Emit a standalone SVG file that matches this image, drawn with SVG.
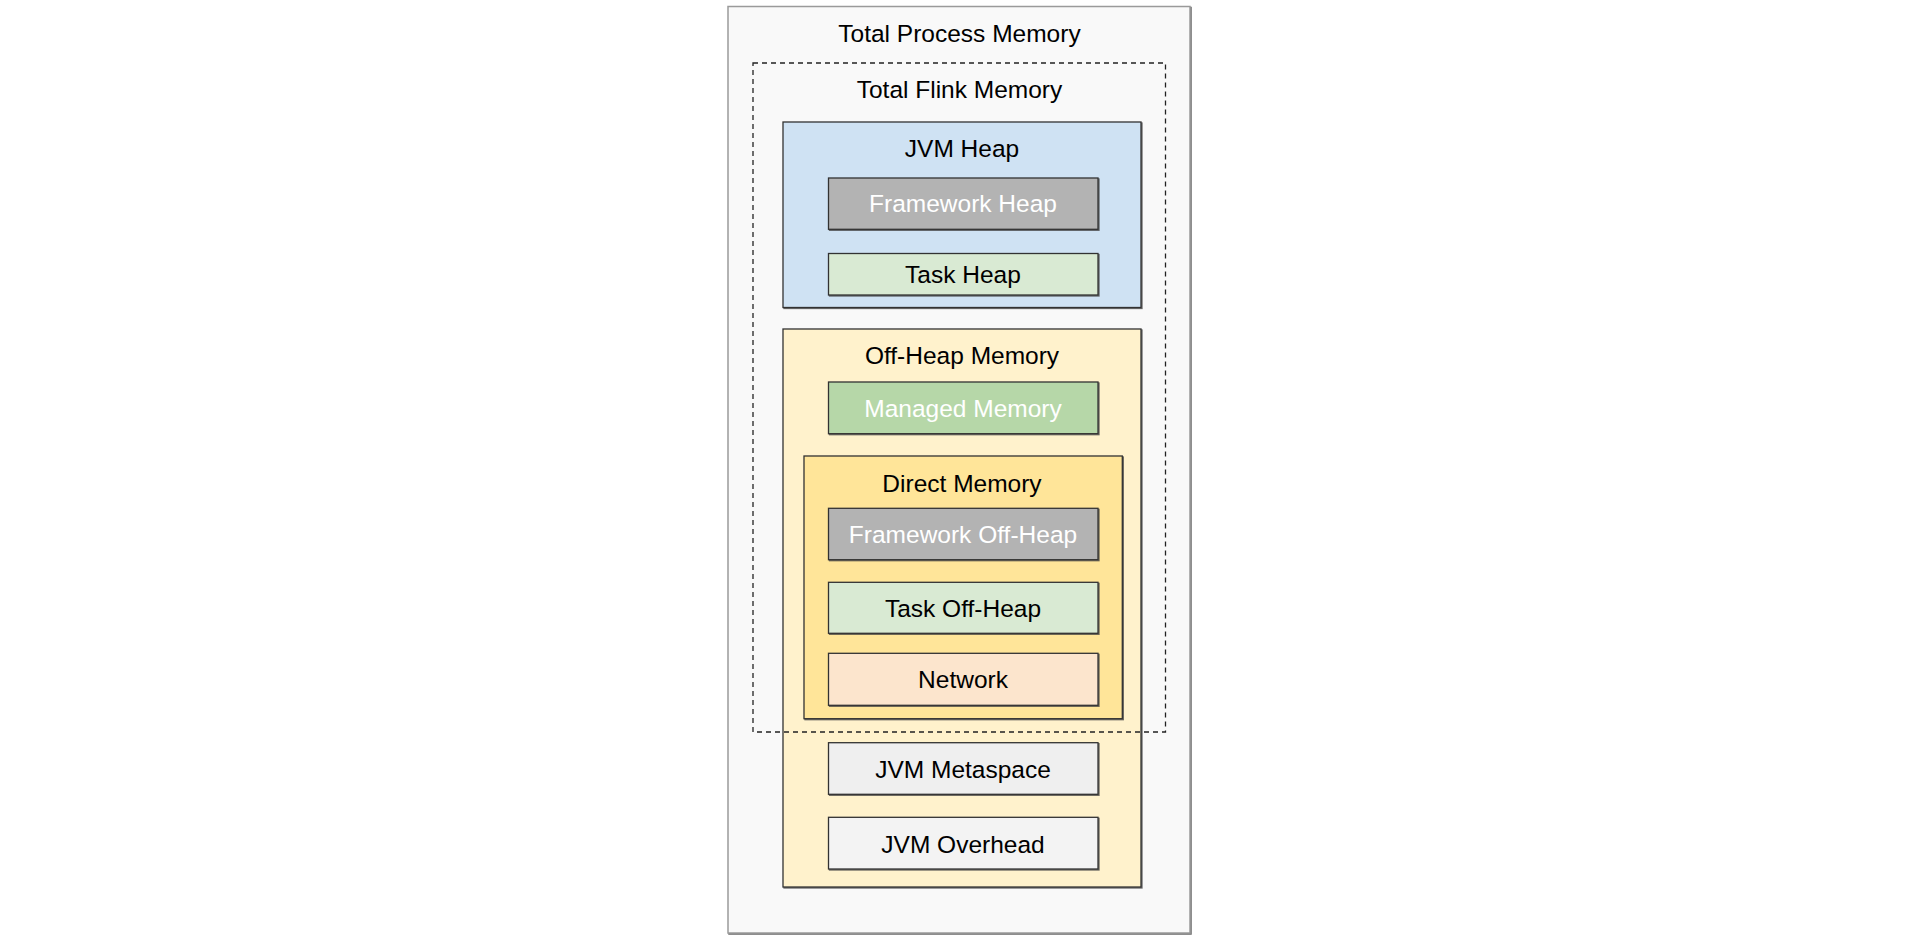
<svg xmlns="http://www.w3.org/2000/svg" width="1920" height="940" viewBox="0 0 1920 940">
<style>
text{font-family:"Liberation Sans",Arial,sans-serif;font-size:24.5px;text-anchor:middle;fill:#000}
.w{fill:#fff}
.b{stroke:#333;stroke-width:1.3}
</style>
<defs>
<filter id="s" x="-5%" y="-5%" width="110%" height="110%">
<feOffset in="SourceAlpha" dx="1.2" dy="1.2" result="o"/>
<feFlood flood-color="#444" flood-opacity="0.8"/>
<feComposite in2="o" operator="in" result="sh"/>
<feMerge><feMergeNode in="sh"/><feMergeNode in="SourceGraphic"/></feMerge>
</filter>
</defs>
<rect width="1920" height="940" fill="#fff"/>
<g id="total-process">
<rect x="728" y="6.5" width="462" height="926.5" fill="#f9f9f9" stroke="#9a9a9a" stroke-width="1.5" filter="url(#s)"/>
<text x="959.5" y="41.7">Total Process Memory</text>
</g>
<g id="total-flink-label">
<text x="959.5" y="98.3">Total Flink Memory</text>
</g>
<g id="jvm-heap">
<rect class="b" x="783" y="122" width="358" height="185.5" fill="#cfe2f3" filter="url(#s)"/>
<text x="962" y="156.7">JVM Heap</text>
</g>
<g id="framework-heap">
<rect class="b" x="828.5" y="178" width="269.5" height="51.3" fill="#b3b3b3" filter="url(#s)"/>
<text class="w" x="963" y="212">Framework Heap</text>
</g>
<g id="task-heap">
<rect class="b" x="828.5" y="253.5" width="269.5" height="41.5" fill="#d9ead3" filter="url(#s)"/>
<text x="963" y="283.3">Task Heap</text>
</g>
<g id="off-heap">
<rect class="b" x="783" y="329" width="358" height="558" fill="#fff2cc" filter="url(#s)"/>
<text x="962" y="364.3">Off-Heap Memory</text>
</g>
<g id="managed-memory">
<rect class="b" x="828.5" y="382" width="269.5" height="51.7" fill="#b6d7a8" filter="url(#s)"/>
<text class="w" x="963" y="417.3">Managed Memory</text>
</g>
<g id="direct-memory">
<rect class="b" x="804" y="456" width="318.3" height="262.7" fill="#ffe599" filter="url(#s)"/>
<text x="962" y="491.7">Direct Memory</text>
</g>
<g id="framework-off-heap">
<rect class="b" x="828.5" y="508.3" width="269.5" height="51.4" fill="#b3b3b3" filter="url(#s)"/>
<text class="w" x="963" y="542.7">Framework Off-Heap</text>
</g>
<g id="task-off-heap">
<rect class="b" x="828.5" y="582.3" width="269.5" height="51" fill="#d9ead3" filter="url(#s)"/>
<text x="963" y="616.7">Task Off-Heap</text>
</g>
<g id="network">
<rect class="b" x="828.5" y="653.3" width="269.5" height="52" fill="#fce5cd" filter="url(#s)"/>
<text x="963" y="687.7">Network</text>
</g>
<g id="jvm-metaspace">
<rect class="b" x="828.5" y="742.7" width="269.5" height="51.6" fill="#efefef" filter="url(#s)"/>
<text x="963" y="777.7">JVM Metaspace</text>
</g>
<g id="jvm-overhead">
<rect class="b" x="828.5" y="817.3" width="269.5" height="51.7" fill="#f3f3f3" filter="url(#s)"/>
<text x="963" y="852.7">JVM Overhead</text>
</g>
<g id="total-flink">
<rect x="753" y="63" width="412.5" height="669" fill="none" stroke="#222" stroke-width="1.3" stroke-dasharray="5,4"/>
</g>
<g id="connectors"></g>
</svg>
